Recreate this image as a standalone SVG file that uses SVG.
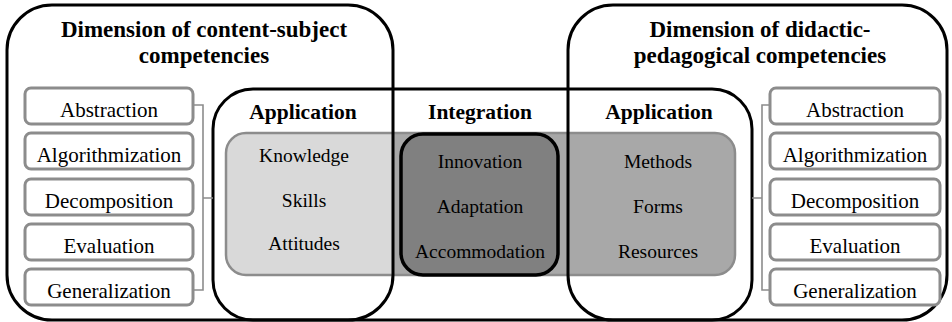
<svg xmlns="http://www.w3.org/2000/svg" width="952" height="322" viewBox="0 0 952 322">
<style>
text{font-family:"Liberation Serif","Times New Roman",Times,serif;text-anchor:middle;fill:#000}
.frame{fill:none;stroke:#000;stroke-width:3}
.item rect{fill:#fff;stroke:#8c8c8c;stroke-width:3}
.item text{font-size:21px}
.title{font-size:23px;font-weight:bold}
.head{font-size:21.5px;font-weight:bold}
.inner{font-size:19.5px}
.br{fill:none;stroke:#8c8c8c;stroke-width:1.6}
</style>
<defs>
<clipPath id="leftclip"><rect x="0" y="0" width="393" height="322"/></clipPath>
</defs>
<rect width="952" height="322" fill="#fff"/>

<g id="band">
<rect x="226" y="133" width="509" height="142" rx="20" fill="#a8a8a8"/>
<rect x="226" y="133" width="509" height="142" rx="20" fill="#d9d9d9" clip-path="url(#leftclip)"/>
<rect x="226" y="133" width="509" height="142" rx="20" fill="none" stroke="#8c8c8c" stroke-width="2.5"/>
</g>

<g id="dim-content">
<rect class="frame" x="7" y="5" width="386" height="315" rx="45"/>
<text class="title" x="204" y="37">Dimension of content-subject</text>
<text class="title" x="204" y="63">competencies</text>
</g>
<g id="dim-didactic">
<rect class="frame" x="568" y="5" width="379" height="315" rx="45"/>
<text class="title" x="760" y="37">Dimension of didactic-</text>
<text class="title" x="760" y="63">pedagogical competencies</text>
</g>
<g id="middle">
<rect class="frame" x="213" y="89" width="539" height="231" rx="40"/>
</g>

<g id="app-left">
<text class="head" x="303" y="119">Application</text>
<text class="inner" x="304" y="162">Knowledge</text>
<text class="inner" x="304" y="207">Skills</text>
<text class="inner" x="304" y="250">Attitudes</text>
</g>
<g id="integration">
<text class="head" x="480" y="119">Integration</text>
<rect x="401" y="134" width="157" height="141" rx="22" fill="#808080" stroke="#000" stroke-width="3.5"/>
<text class="inner" x="480" y="168">Innovation</text>
<text class="inner" x="480" y="213">Adaptation</text>
<text class="inner" x="480" y="258">Accommodation</text>
</g>
<g id="app-right">
<text class="head" x="659" y="119">Application</text>
<text class="inner" x="658" y="168">Methods</text>
<text class="inner" x="658" y="213">Forms</text>
<text class="inner" x="658" y="258">Resources</text>
</g>

<g id="left-list">
<g id="l-abstraction" class="item"><rect x="25" y="88" width="168" height="36" rx="6"/><text x="109" y="117">Abstraction</text></g>
<g id="l-algorithmization" class="item"><rect x="25" y="133" width="168" height="36" rx="6"/><text x="109" y="162">Algorithmization</text></g>
<g id="l-decomposition" class="item"><rect x="25" y="179" width="168" height="36" rx="6"/><text x="109" y="208">Decomposition</text></g>
<g id="l-evaluation" class="item"><rect x="25" y="224" width="168" height="36" rx="6"/><text x="109" y="253">Evaluation</text></g>
<g id="l-generalization" class="item"><rect x="25" y="269" width="168" height="36" rx="6"/><text x="109" y="298">Generalization</text></g>
</g>
<g id="right-list">
<g id="r-abstraction" class="item"><rect x="770" y="88" width="170" height="36" rx="6"/><text x="855" y="117">Abstraction</text></g>
<g id="r-algorithmization" class="item"><rect x="770" y="133" width="170" height="36" rx="6"/><text x="855" y="162">Algorithmization</text></g>
<g id="r-decomposition" class="item"><rect x="770" y="179" width="170" height="36" rx="6"/><text x="855" y="208">Decomposition</text></g>
<g id="r-evaluation" class="item"><rect x="770" y="224" width="170" height="36" rx="6"/><text x="855" y="253">Evaluation</text></g>
<g id="r-generalization" class="item"><rect x="770" y="269" width="170" height="36" rx="6"/><text x="855" y="298">Generalization</text></g>
</g>

<g id="connectors">
<path class="br" d="M193 105 H203 V290 H193 M203 198 H213"/>
<path class="br" d="M770 105 H762 V290 H770 M762 198 H752"/>
</g>
</svg>
